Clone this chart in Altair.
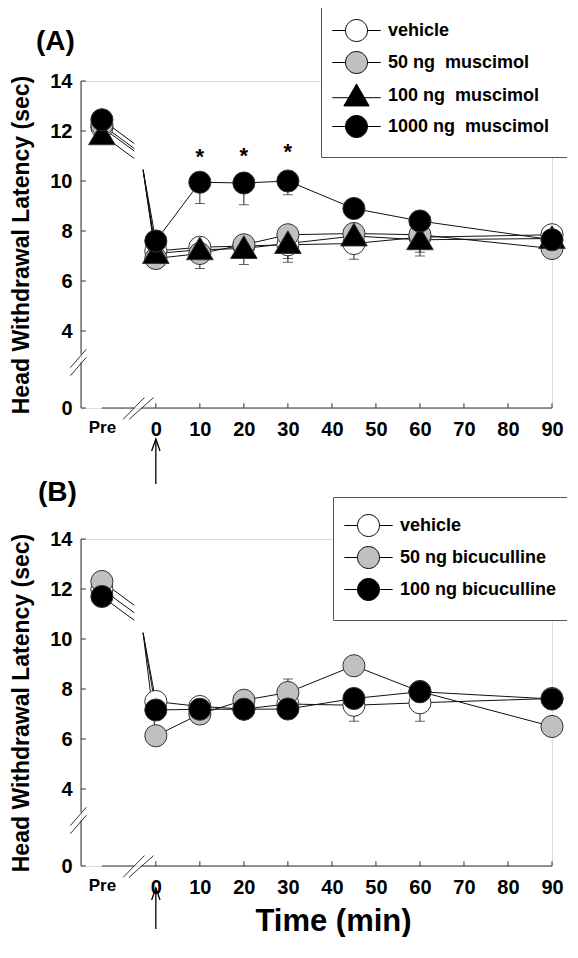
import altair as alt
import pandas as pd

F = "Liberation Sans, Arial, Helvetica, sans-serif"
NB = "\u00a0"

# ---------------- data ----------------
times = [0, 10, 20, 30, 45, 60, 90]
PRE_X = -12.25          # where "Pre" sits on the minute axis
X_MIN = -17.0
tick_times = [0, 10, 20, 30, 40, 50, 60, 70, 80, 90]
y_ticks = [0, 4, 6, 8, 10, 12, 14]

# Panel A (muscimol)
series_A = ["vehicle", "50 ng" + NB + " muscimol", "100 ng" + NB + " muscimol",
            "1000 ng" + NB + " muscimol"]
pre_A = [12.15, 12.25, 11.85, 12.45]
vehicle_A = [7.2, 7.35, 7.4, 7.45, 7.5, 7.75, 7.85]
musc50_A = [6.9, 7.1, 7.45, 7.85, 7.9, 7.85, 7.3]
musc100_A = [7.1, 7.25, 7.3, 7.5, 7.8, 7.65, 7.7]
musc1000_A = [7.6, 9.95, 9.92, 10.0, 8.9, 8.4, 7.65]
err_A_series = [3, 3, 3, 1, 1, 1, 0, 2, 0, 0, 2]      # index into series_A
err_A_time = [10, 20, 30, 0, 10, 20, 30, 30, 45, 60, 60]
err_A_end = [9.1, 9.05, 9.45, 6.5, 6.5, 6.66, 6.75, 6.9, 6.87, 7.0, 7.15]
star_times = [10, 20, 30]
star_y = [10.95, 11.0, 11.15]

# Panel B (bicuculline)
series_B = ["vehicle", "50 ng bicuculline", "100 ng bicuculline"]
pre_B = [12.0, 12.3, 11.7]
vehicle_B = [7.5, 7.3, 7.2, 7.4, 7.35, 7.45, 7.62]
bic50_B = [6.13, 7.0, 7.55, 7.86, 8.93, 7.9, 6.5]
bic100_B = [7.16, 7.19, 7.19, 7.2, 7.62, 7.89, 7.6]
err_B_series = [0, 0, 1]
err_B_time = [45, 60, 30]
err_B_end = [6.71, 6.71, 8.4]

# ---------------- styles ----------------
GRAY = "#c0c0c0"
TRI = "M0,-1.15L1.2,0.9L-1.2,0.9Z"
LEG_CIRC = "M-2.2,0L-1,0M1,0L2.2,0M1,0A1,1,0,1,1,-1,0A1,1,0,1,1,1,0Z"
LEG_TRI = "M-2.2,0.2L2.2,0.2M0,-1.05L1.15,0.95L-1.15,0.95Z"
ARROW_HEAD = "M-0.7,1.4L0,-0.6L0.7,1.4"
H = 327
W = 471

xscale = alt.Scale(domain=[X_MIN, 90], nice=False, zero=False)
yscale = alt.Scale(domain=[0, 4, 14], range=[H, 250, 0], nice=False, zero=False)


def xenc(title):
    kw = dict(values=[PRE_X] + tick_times,
              labelExpr="datum.value < 0 ? 'Pre' : datum.label",
              labelFontSize=alt.condition("datum.value < 0", alt.value(17), alt.value(20)),
              ticks=False, domain=False, grid=False, labelFlush=False, labelOverlap=False,
              labelPadding=11, labelFont=F, labelFontWeight="bold", labelColor="black")
    if title:
        kw.update(title=title, titleFontSize=31, titleFont=F, titleFontWeight="bold",
                  titleX=252, titleAlign="center", titlePadding=9, titleColor="black")
    else:
        kw.update(title=None)
    return alt.X("x:Q", scale=xscale, axis=alt.Axis(**kw))


def yenc():
    return alt.Y("y:Q", scale=yscale,
                 axis=alt.Axis(values=y_ticks, ticks=False, domain=False, grid=False,
                               labelPadding=9, labelFontSize=20, labelFont=F,
                               labelFontWeight="bold", labelColor="black",
                               title="Head Withdrawal Latency (sec)", titleFontSize=23,
                               titleFont=F, titleFontWeight="bold", titlePadding=16,
                               titleColor="black"))


def frame_df():
    rows = []
    # y axis with break
    rows.append(dict(x=X_MIN, x2=X_MIN, y=2.79, y2=14))
    rows.append(dict(x=X_MIN, x2=X_MIN, y=0, y2=2.37))
    rows.append(dict(x=-19.4, x2=-15.8, y=1.68, y2=2.63))
    rows.append(dict(x=-19.4, x2=-15.8, y=2.1, y2=3.05))
    # x axis with break
    rows.append(dict(x=PRE_X, x2=-4.9, y=0, y2=0))
    rows.append(dict(x=-3.34, x2=90, y=0, y2=0))
    rows.append(dict(x=-7.42, x2=-2.6, y=-0.59, y2=0.54))
    rows.append(dict(x=-6.08, x2=-0.51, y=-0.59, y2=0.54))
    for t in tick_times:
        rows.append(dict(x=t, x2=t, y=0, y2=0.25))
    for yt in y_ticks:
        rows.append(dict(x=X_MIN, x2=X_MIN + 1.1, y=yt, y2=yt))
    return pd.DataFrame(rows)


def panel(series, fills, shapes, leg_shapes, pre, values, err_s, err_t, err_e,
          stars, legend_xy, label, label_xy, xtitle, arrow_px, conn_top):
    pts, lines, errs, caps = [], [], [], []
    for i, (s, p, vals) in enumerate(zip(series, pre, values)):
        pts.append(dict(series=s, shp=shapes[i], fll=fills[i], x=PRE_X, y=p))
        for t, val in zip(times, vals):
            pts.append(dict(series=s, shp=shapes[i], fll=fills[i], x=t, y=val))
        for k, (t, val) in enumerate(zip(times, vals)):
            lines.append(dict(seg=f"{i}_m", k=k, x=t, y=val))
        lines.append(dict(seg=f"{i}_c1", k=0, x=PRE_X, y=p))
        lines.append(dict(seg=f"{i}_c1", k=1, x=-4.9, y=p - 0.95))
        lines.append(dict(seg=f"{i}_c2", k=0, x=-2.9, y=conn_top))
        lines.append(dict(seg=f"{i}_c2", k=1, x=0, y=vals[0]))
    for si, t, e in zip(err_s, err_t, err_e):
        errs.append(dict(x=t, y=values[si][times.index(t)], y2=e))
        caps.append(dict(x=t, y=e))
    pts = pd.DataFrame(pts)
    lines = pd.DataFrame(lines)
    errs = pd.DataFrame(errs)
    caps = pd.DataFrame(caps)

    X = xenc(xtitle)
    Y = yenc()

    frame = alt.Chart(frame_df()).mark_rule(color="#333", strokeWidth=1).encode(
        x=X, y=Y, x2="x2:Q", y2="y2:Q")
    line_l = alt.Chart(lines).mark_line(color="#111", strokeWidth=1).encode(
        x=X, y=Y, detail="seg:N", order="k:Q")
    err_l = alt.Chart(errs).mark_rule(color="#222", strokeWidth=1).encode(x=X, y=Y, y2="y2:Q")
    cap_l = alt.Chart(caps).mark_tick(orient="horizontal", size=10, thickness=1,
                                      color="#222").encode(x=X, y=Y)
    pt_l = alt.Chart(pts).mark_point(filled=True, size=490, stroke="#333", strokeWidth=1,
                                     opacity=1).encode(
        x=X, y=Y,
        shape=alt.Shape("shp:N", scale=None),
        fill=alt.Fill("fll:N", scale=None))
    leg = alt.Legend(title=None, orient="none", legendX=legend_xy[0], legendY=legend_xy[1],
                     padding=17, rowPadding=5, labelOffset=20, symbolOffset=7,
                     symbolSize=484, symbolStrokeWidth=1,
                     labelFont=F, labelFontSize=18, labelFontWeight="bold",
                     labelColor="black", labelLimit=400, strokeColor="#555",
                     fillColor="white")
    leg_l = alt.Chart(pts).transform_filter("false").mark_point(
        filled=True, strokeWidth=1, opacity=1).encode(
        x=X, y=Y,
        shape=alt.Shape("series:N", scale=alt.Scale(domain=series, range=leg_shapes), legend=leg),
        fill=alt.Fill("series:N", scale=alt.Scale(domain=series, range=fills), legend=leg),
        stroke=alt.Stroke("series:N", scale=alt.Scale(domain=series,
                                                       range=["black"] * len(series)),
                          legend=leg))
    layers = [frame, line_l, err_l, cap_l, pt_l]
    if stars:
        sdf = pd.DataFrame(dict(x=stars[0], y=stars[1], t=["*"] * len(stars[0])))
        layers.append(alt.Chart(sdf).mark_text(font=F, fontSize=22, fontWeight="bold",
                                               baseline="middle", color="black").encode(
            x=X, y=Y, text="t:N"))
    adf = pd.DataFrame(dict(x=[0]))
    layers.append(alt.Chart(adf).mark_rule(color="black", strokeWidth=1.3).encode(
        x=X, y=alt.value(arrow_px[0]), y2=alt.value(arrow_px[1])))
    layers.append(alt.Chart(adf).mark_point(shape=ARROW_HEAD, filled=False, size=144,
                                            stroke="black", strokeWidth=1.3, opacity=1).encode(
        x=X, y=alt.value(arrow_px[0] + 3.6)))
    layers.append(alt.Chart(adf).mark_text(font=F, fontSize=28, fontWeight="bold",
                                           align="left", baseline="alphabetic",
                                           color="black").encode(
        x=alt.value(label_xy[0]), y=alt.value(label_xy[1]), text=alt.value(label)))
    layers.append(leg_l)
    return alt.layer(*layers).properties(width=W, height=H)


chartA = panel(series_A, ["white", GRAY, "black", "black"],
               ["circle", "circle", TRI, "circle"],
               [LEG_CIRC, LEG_CIRC, LEG_TRI, LEG_CIRC],
               pre_A, [vehicle_A, musc50_A, musc100_A, musc1000_A],
               err_A_series, err_A_time, err_A_end, (star_times, star_y),
               (240, -79), "(A)", (-45, -31), None, (358, 403), 10.45)

chartB = panel(series_B, ["white", GRAY, "black"],
               ["circle", "circle", "circle"],
               [LEG_CIRC, LEG_CIRC, LEG_CIRC],
               pre_B, [vehicle_B, bic50_B, bic100_B],
               err_B_series, err_B_time, err_B_end, None,
               (252, -42), "(B)", (-43, -38), "Time (min)", (349, 390), 10.25)

chart = alt.vconcat(chartA, chartB, spacing=131, bounds="flush").resolve_scale(
    x="independent", y="independent", shape="independent", fill="independent",
    stroke="independent"
).resolve_legend(shape="independent", fill="independent", stroke="independent").properties(
    padding={"left": 2, "top": -7, "right": -8, "bottom": 0}
).configure_view(strokeOpacity=0).configure(background="white")

chart.save("out.html", embed_options={"renderer": "svg", "actions": False})
